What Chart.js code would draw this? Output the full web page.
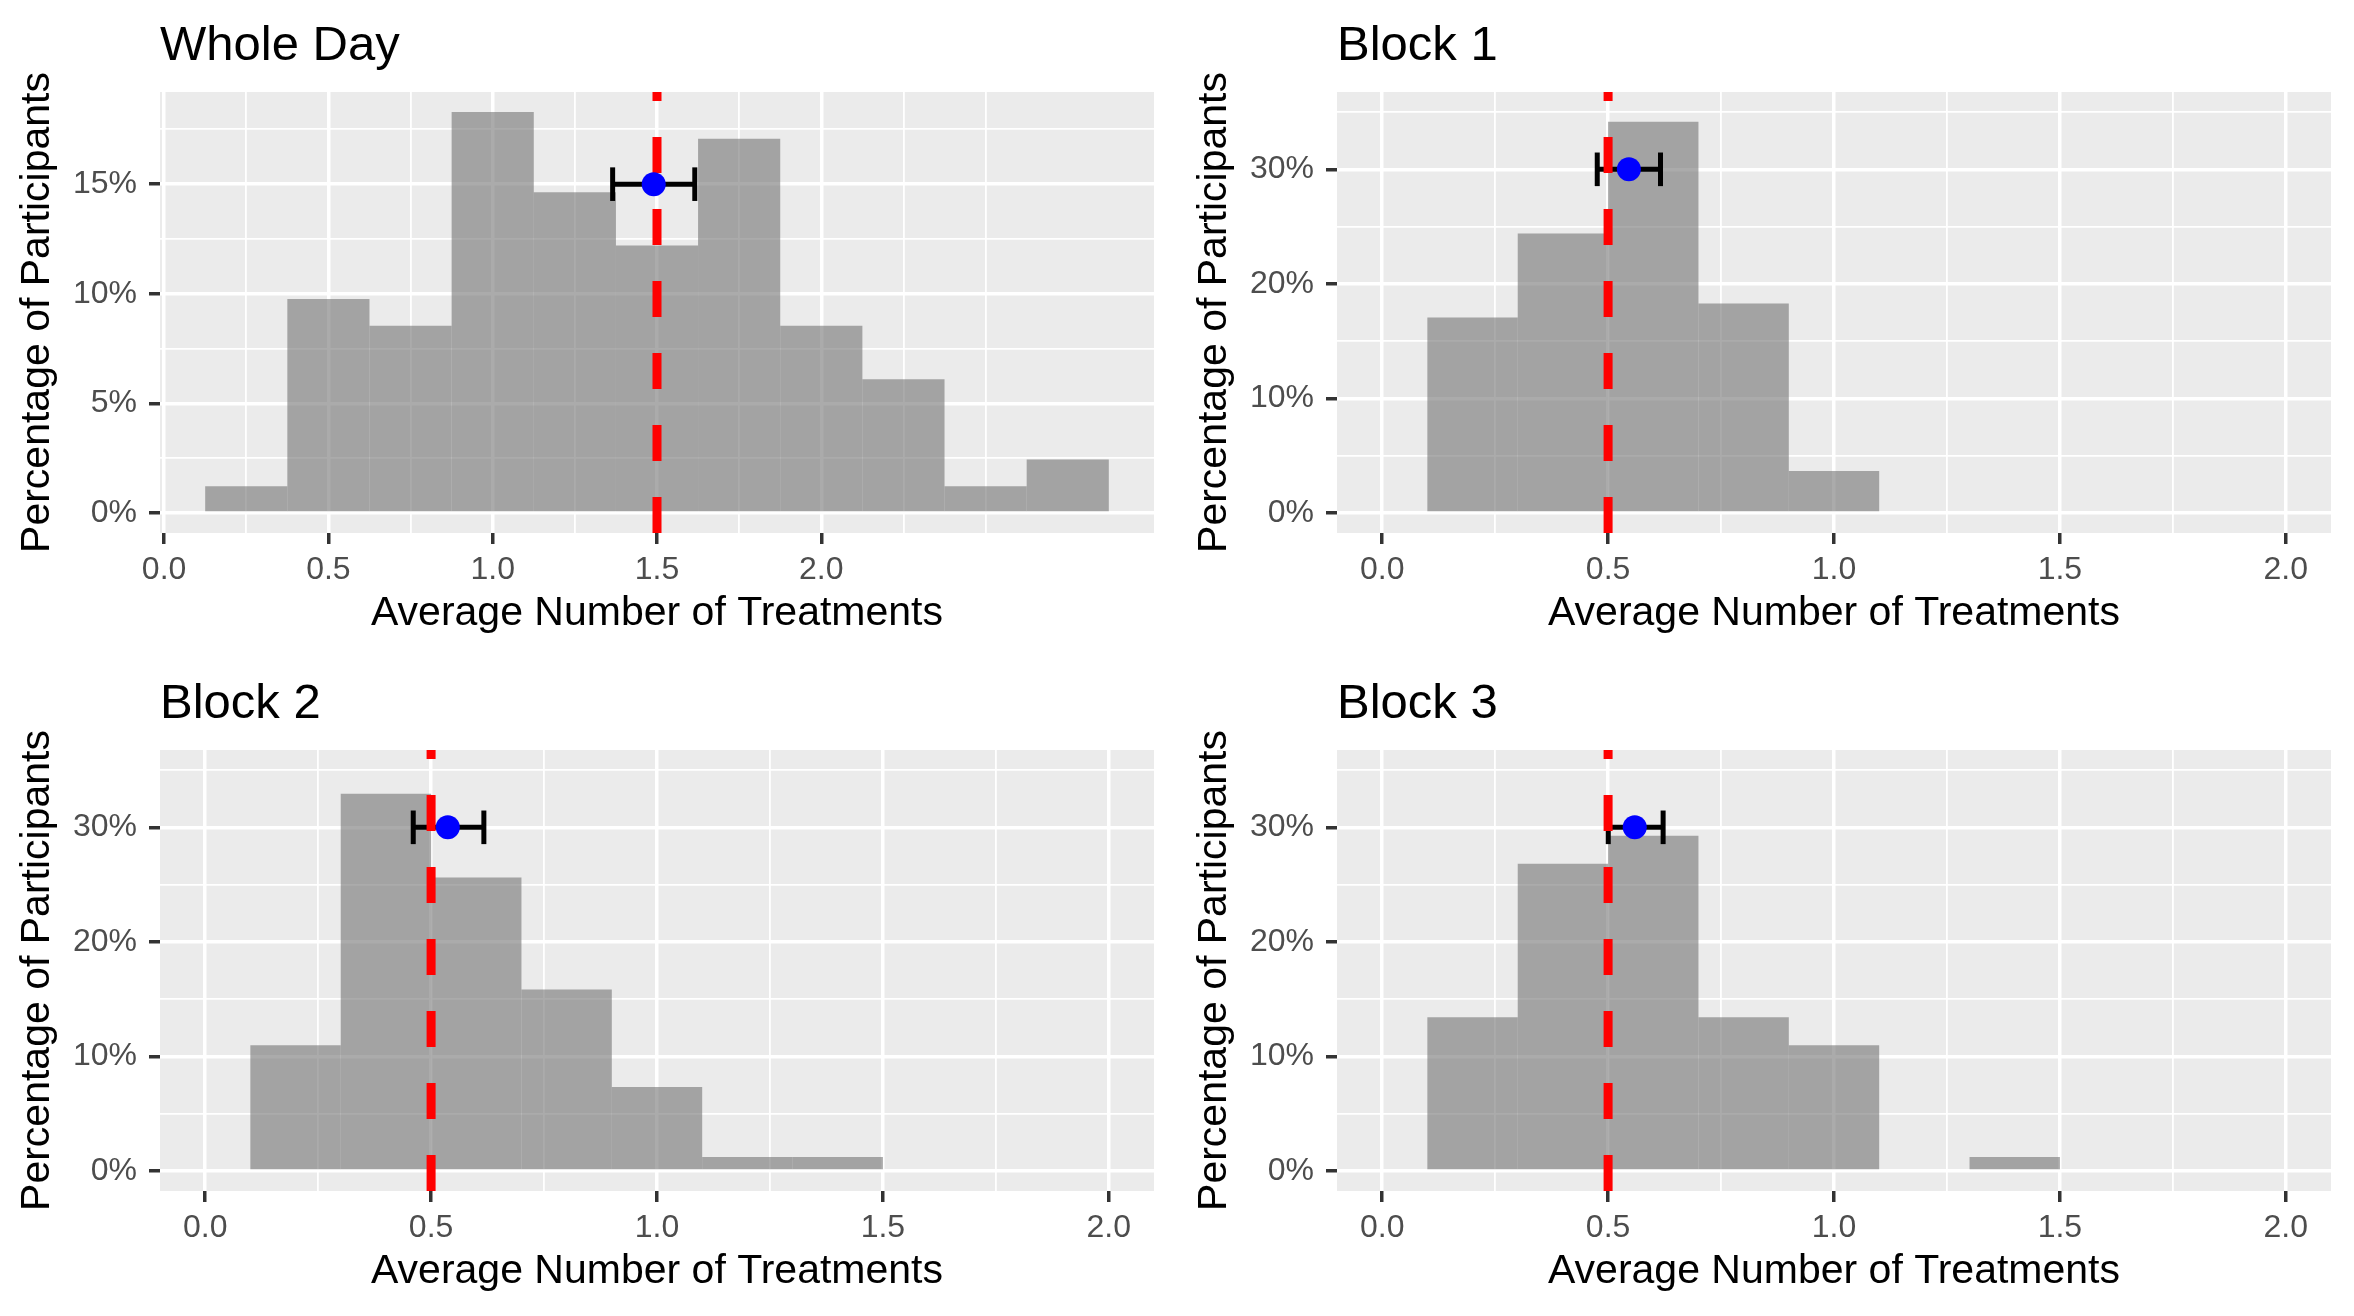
<!DOCTYPE html>
<html>
<head>
<meta charset="utf-8">
<script src="https://cdn.jsdelivr.net/npm/chart.js@4.4.1/dist/chart.umd.min.js"></script>
<style>
html, body { margin: 0; padding: 0; background: #ffffff; }
#wrap { position: relative; width: 2354px; height: 1316px; background: #ffffff; }
canvas { position: absolute; }
</style>
</head>
<body>
<div id="wrap">
  <canvas id="p0" width="1177" height="658" style="left:0px;top:0px"></canvas>
  <canvas id="p1" width="1177" height="658" style="left:1177px;top:0px"></canvas>
  <canvas id="p2" width="1177" height="658" style="left:0px;top:658px"></canvas>
  <canvas id="p3" width="1177" height="658" style="left:1177px;top:658px"></canvas>
</div>
<script>
// ---------------- data ----------------
const panelTitles = ['Whole Day', 'Block 1', 'Block 2', 'Block 3'];

const wholeBinCenters = [0.25, 0.5, 0.75, 1.0, 1.25, 1.5, 1.75, 2.0, 2.25, 2.5, 2.75];
const wholePct        = [1.22, 9.76, 8.54, 18.29, 14.63, 12.20, 17.07, 8.54, 6.10, 1.22, 2.44];
const wholeBinWidth   = 0.25;

const blockBinCenters = [0.2, 0.4, 0.6, 0.8, 1.0, 1.2, 1.4];
const block1Pct = [17.07, 24.39, 34.15, 18.29, 3.66];
const block2Pct = [10.98, 32.93, 25.61, 15.85, 7.32, 1.22, 1.22];
const block3Pct = [13.41, 26.83, 29.27, 13.41, 10.98, 0, 1.22];
const blockBinWidth = 0.2;

const meanValues = [1.49, 0.546, 0.537, 0.559];
const ciLow      = [1.365, 0.476, 0.4605, 0.5004];
const ciHigh     = [1.615, 0.616, 0.6168, 0.6218];
const refLines   = [1.5, 0.5, 0.5, 0.5];
const markerY    = [15, 30, 30, 30];

const blockXLimits = [0, 2];
const blockYLimits = [0, 35];

const xMajorTicks      = [0, 0.5, 1.0, 1.5, 2.0];
const xMinorTicksWhole = [0.25, 0.75, 1.25, 1.75, 2.25, 2.5];
const xMinorTicksBlock = [0.25, 0.75, 1.25, 1.75];
const yMajorWhole = [0, 5, 10, 15];
const yMinorWhole = [2.5, 7.5, 12.5, 17.5];
const yMajorBlock = [0, 10, 20, 30];
const yMinorBlock = [5, 15, 25, 35];

const xAxisTitle = 'Average Number of Treatments';
const yAxisTitle = 'Percentage of Participants';

// ---------------- helpers ----------------
Chart.defaults.font.family = "'Liberation Sans', Arial, Helvetica, sans-serif";

function expand(lo, hi) {
  const d = (hi - lo) * 0.05;
  return [lo - d, hi + d];
}
function inList(list, v) {
  return list.some(t => Math.abs(t - v) < 1e-9);
}

const bgPlugin = {
  id: 'panelBg',
  beforeDraw(chart) {
    const { ctx, chartArea: a } = chart;
    ctx.save();
    ctx.fillStyle = '#ffffff';
    ctx.fillRect(0, 0, chart.width, chart.height);
    ctx.fillStyle = '#EBEBEB';
    ctx.fillRect(a.left, a.top, a.right - a.left, a.bottom - a.top);
    ctx.restore();
  }
};

function makePanel(idx, centers, pct, binWidth, xLim, yLim, xMinor, yMajor, yMinor) {
  const xTicks = xMajorTicks.concat(xMinor).sort((a, b) => a - b);
  const yTicks = yMajor.concat(yMinor).sort((a, b) => a - b);

  const bars = centers.slice(0, pct.length).map((c, i) => ({ x: c, y: pct[i] }));

  const scaleCommon = (majors) => ({
    color: '#FFFFFF',
    lineWidth: c => (c.tick && inList(majors, c.tick.value)) ? 3.5 : 1.8,
    tickColor: c => (c.tick && inList(majors, c.tick.value)) ? '#333333' : 'rgba(0,0,0,0)',
    tickWidth: 3.5,
    tickLength: 11,
    drawTicks: true,
    offset: false
  });

  new Chart(document.getElementById('p' + idx), {
    type: 'bar',
    data: {
      datasets: [
        {
          type: 'scatter',
          order: 0,
          data: [{ x: meanValues[idx], y: markerY[idx] }],
          pointRadius: 12,
          pointBackgroundColor: '#0000FF',
          pointBorderColor: '#0000FF',
          pointBorderWidth: 0,
          pointHoverRadius: 12
        },
        {
          type: 'line',
          order: 1,
          data: [{ x: refLines[idx], y: yLim[0] }, { x: refLines[idx], y: yLim[1] }],
          borderColor: '#FF0000',
          borderWidth: 9,
          borderDash: [36, 36],
          borderCapStyle: 'butt',
          pointRadius: 0,
          tension: 0
        },
        {
          type: 'line',
          order: 2,
          data: [{ x: ciLow[idx], y: markerY[idx] }, { x: ciHigh[idx], y: markerY[idx] }],
          borderColor: '#000000',
          borderWidth: 5,
          pointStyle: 'line',
          pointRotation: 90,
          pointRadius: 16.8,
          pointBorderColor: '#000000',
          pointBorderWidth: 5,
          pointHoverRadius: 16.8,
          tension: 0
        },
        {
          type: 'bar',
          order: 3,
          data: bars,
          backgroundColor: 'rgba(115,115,115,0.6)',
          borderWidth: 0,
          inflateAmount: 0,
          barPercentage: 1.0,
          categoryPercentage: 1.0
        }
      ]
    },
    options: {
      responsive: false,
      animation: false,
      devicePixelRatio: 1,
      layout: { padding: { left: 0, right: 23, top: 0, bottom: 0 } },
      plugins: {
        legend: { display: false },
        tooltip: { enabled: false },
        title: {
          display: true,
          text: panelTitles[idx],
          align: 'start',
          fullSize: false,
          color: '#000000',
          font: { size: 49, weight: 'normal' },
          padding: { top: 16.6, bottom: 16.6 }
        }
      },
      scales: {
        x: {
          type: 'linear',
          min: xLim[0],
          max: xLim[1],
          offset: false,
          border: { display: false },
          grid: scaleCommon(xMajorTicks),
          afterBuildTicks: s => { s.ticks = xTicks.map(v => ({ value: v })); },
          afterFit: s => { s.height = 125; },
          ticks: {
            autoSkip: false,
            maxRotation: 0,
            minRotation: 0,
            padding: 7,
            color: '#4D4D4D',
            font: { size: 32 },
            callback: v => inList(xMajorTicks, v) ? Number(v).toFixed(1) : ''
          },
          title: {
            display: true,
            text: xAxisTitle,
            color: '#000000',
            font: { size: 41 },
            padding: { top: 0, bottom: 20 }
          }
        },
        y: {
          type: 'linear',
          min: yLim[0],
          max: yLim[1],
          border: { display: false },
          grid: scaleCommon(yMajor),
          afterBuildTicks: s => { s.ticks = yTicks.map(v => ({ value: v })); },
          afterFit: s => { s.width = 160; },
          ticks: {
            autoSkip: false,
            padding: 12,
            color: '#4D4D4D',
            font: { size: 32 },
            callback: v => inList(yMajor, v) ? (Math.round(v) + '%') : ''
          },
          title: {
            display: true,
            text: yAxisTitle,
            color: '#000000',
            font: { size: 41 },
            padding: { top: 13.5, bottom: 0 }
          }
        }
      }
    },
    plugins: [bgPlugin]
  });
}

// Whole day: limits from bin edges and data, expanded 5%
const wholeXLim = expand(Math.min(...wholeBinCenters) - wholeBinWidth / 2,
                         Math.max(...wholeBinCenters) + wholeBinWidth / 2);
const wholeYLim = expand(0, Math.max(...wholePct));
const blockXLim = expand(blockXLimits[0], blockXLimits[1]);
const blockYLim = expand(blockYLimits[0], blockYLimits[1]);

makePanel(0, wholeBinCenters, wholePct, wholeBinWidth, wholeXLim, wholeYLim, xMinorTicksWhole, yMajorWhole, yMinorWhole);
makePanel(1, blockBinCenters, block1Pct, blockBinWidth, blockXLim, blockYLim, xMinorTicksBlock, yMajorBlock, yMinorBlock);
makePanel(2, blockBinCenters, block2Pct, blockBinWidth, blockXLim, blockYLim, xMinorTicksBlock, yMajorBlock, yMinorBlock);
makePanel(3, blockBinCenters, block3Pct, blockBinWidth, blockXLim, blockYLim, xMinorTicksBlock, yMajorBlock, yMinorBlock);
</script>
</body>
</html>
